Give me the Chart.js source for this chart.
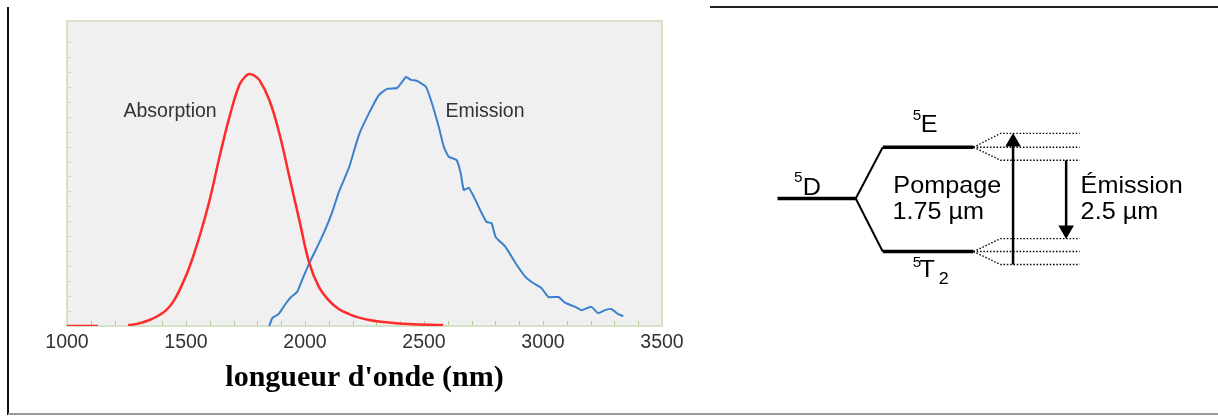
<!DOCTYPE html>
<html>
<head>
<meta charset="utf-8">
<script src="https://cdn.jsdelivr.net/npm/chart.js@4"></script>
<style>
  body { margin: 0; background: #fff; overflow: hidden; }
  #wrap { position: relative; width: 1218px; height: 417px; }
  canvas { position: absolute; top: 0; }
  #spectrum { left: 0; }
  #levels { left: 700px; }
  .rule { position: absolute; }
</style>
</head>
<body>
<div id="wrap">
  <canvas id="spectrum" width="700" height="417"></canvas>
  <canvas id="levels" width="518" height="417"></canvas>
  <div class="rule" style="left:7px; top:7px; width:2px; height:408px; background:#111;"></div>
  <div class="rule" style="left:710px; top:6px; width:508px; height:2px; background:#222;"></div>
  <div class="rule" style="left:8px; top:413px; width:1210px; height:2px; background:#9a9a9a;"></div>
</div>
<script>
// ── Spectrum data (wavelength in nm, normalised intensity) ──
const xTickValues = [1000, 1500, 2000, 2500, 3000, 3500];
const xTickLabels = ['1000', '1500', '2000', '2500', '3000', '3500'];

const absorptionNm = [1000, 1060, 1130, 1190, 1257, 1300, 1347, 1385, 1417, 1445, 1473, 1515,
  1557, 1599, 1641, 1683, 1724, 1750, 1766, 1785, 1808, 1850, 1892, 1934, 1976, 2018, 2059,
  2101, 2143, 2185, 2227, 2269, 2320, 2382, 2450, 2520, 2580];
const absorptionVal = [0, 0, 0, null, 0.003, 0.008, 0.02, 0.035, 0.053, 0.08, 0.12, 0.198,
  0.30, 0.42, 0.566, 0.70, 0.806, 0.835, 0.843, 0.838, 0.823, 0.756, 0.645, 0.50, 0.355, 0.21, 0.13,
  0.085, 0.056, 0.040, 0.028, 0.02, 0.014, 0.009, 0.006, 0.004, 0.003];

const emissionNm = [1850, 1863, 1880, 1892, 1921, 1942, 1967, 1988, 2018, 2059, 2089, 2114,
  2143, 2185, 2227, 2269, 2311, 2345, 2387, 2408, 2424, 2445, 2470, 2508, 2533, 2562, 2583,
  2604, 2637, 2654, 2667, 2688, 2717, 2742, 2763, 2784, 2801, 2843, 2885, 2926, 2952, 2993,
  3023, 3065, 3094, 3136, 3161, 3203, 3232, 3261, 3286, 3316, 3337];
const emissionVal = [0, 0.027, 0.035, 0.043, 0.077, 0.097, 0.114, 0.154, 0.21, 0.277, 0.33, 0.38,
  0.45, 0.53, 0.64, 0.712, 0.773, 0.793, 0.796, 0.816, 0.833, 0.823, 0.82, 0.80, 0.746, 0.666, 0.60,
  0.566, 0.555, 0.512, 0.455, 0.462, 0.42, 0.378, 0.348, 0.344, 0.298, 0.264, 0.21, 0.164, 0.147, 0.127,
  0.097, 0.097, 0.077, 0.064, 0.053, 0.064, 0.043, 0.053, 0.057, 0.040, 0.033];

const curveNames = ['Absorption', 'Emission'];
const curveLabelNm = [1433, 2756];
const curveLabelVal = [0.716, 0.716];

// ── Energy level diagram data (diagram units) ──
const levelNames = ['5D', '5E', '5T2'];
const levelLines = [
  [[71, 198], [152, 198]],   // 5D
  [[180, 144.5], [274, 144.5]],  // 5E
  [[180, 253.5], [274, 253.5]]   // 5T2
];
const splitLines = [
  [[152, 198], [180, 144.5]],
  [[152, 198], [180, 253.5]]
];
const subLevels = [
  [[274, 144.5], [302, 130], [384, 130]],
  [[274, 144.5], [384, 144.5]],
  [[274, 144.5], [302, 158], [384, 158]],
  [[274, 253.5], [302, 240], [384, 240]],
  [[274, 253.5], [384, 253.5]],
  [[274, 253.5], [302, 267], [384, 267]]
];
const pumpArrow = [[315, 267], [315, 139]];
const emissionArrow = [[370, 158], [370, 231]];
const transitionText = [['Pompage', '1.75 µm'], ['Émission', '2.5 µm']];

const toXY = (xs, ys) => xs.map((x, i) => ({ x: x, y: ys[i] }));
const toPts = seg => seg.map(p => ({ x: p[0], y: p[1] }));

// background, border and inward ticks of the spectrum plot
const frame = {
  id: 'frame',
  beforeDatasetsDraw(chart) {
    const { ctx, chartArea: a, scales } = chart;
    ctx.save();
    ctx.fillStyle = '#f0f0f0';
    ctx.fillRect(a.left, a.top, a.right - a.left, a.bottom - a.top);
    ctx.strokeStyle = '#d6e2c8';
    ctx.lineWidth = 2;
    ctx.strokeRect(a.left, a.top, a.right - a.left, a.bottom - a.top);
    ctx.lineWidth = 1;
    for (let v = 1100; v < 3500; v += 100) {
      const px = Math.round(scales.x.getPixelForValue(v)) + 0.5;
      ctx.strokeStyle = v % 500 === 0 ? '#b8c8a0' : '#a8c890';
      ctx.beginPath();
      ctx.moveTo(px, a.bottom - 1);
      ctx.lineTo(px, a.bottom - 5);
      ctx.stroke();
    }
    for (let v = 0.05; v < 1.0; v += 0.05) {
      const py = Math.round(scales.y.getPixelForValue(v)) + 0.5;
      ctx.strokeStyle = '#e2cfa8';
      ctx.beginPath();
      ctx.moveTo(a.left + 1, py);
      ctx.lineTo(a.left + 4, py);
      ctx.stroke();
    }
    ctx.restore();
  },
  afterDatasetsDraw(chart) {
    const { ctx, scales } = chart;
    ctx.save();
    ctx.font = '19.5px "Liberation Sans", Arial, sans-serif';
    ctx.fillStyle = '#333';
    ctx.textAlign = 'center';
    ctx.textBaseline = 'middle';
    curveNames.forEach((name, i) => {
      ctx.fillText(name, scales.x.getPixelForValue(curveLabelNm[i]), scales.y.getPixelForValue(curveLabelVal[i]));
    });
    ctx.restore();
  }
};

new Chart(document.getElementById('spectrum'), {
  type: 'line',
  data: {
    datasets: [{
      label: curveNames[0],
      data: toXY(absorptionNm, absorptionVal),
      borderColor: '#ff2b2b',
      borderWidth: 2.5,
      tension: 0.4,
      pointRadius: 0
    }, {
      label: curveNames[1],
      data: toXY(emissionNm, emissionVal),
      borderColor: '#3b80cc',
      borderWidth: 2,
      tension: 0.15,
      pointRadius: 0
    }]
  },
  options: {
    responsive: false,
    animation: false,
    devicePixelRatio: 1,
    layout: { padding: { left: 67, right: 38, top: 21, bottom: 0 } },
    plugins: { legend: { display: false }, tooltip: { enabled: false } },
    scales: {
      x: {
        type: 'linear',
        min: 1000,
        max: 3500,
        afterBuildTicks: s => { s.ticks = xTickValues.map(v => ({ value: v })); },
        afterFit: s => { s.height = 91; },
        grid: { display: false, drawTicks: false },
        border: { display: false },
        ticks: {
          padding: 5,
          maxRotation: 0,
          color: '#333',
          font: { family: '"Liberation Sans", Arial, sans-serif', size: 19.5 },
          callback: (v, i) => xTickLabels[i]
        },
        title: {
          display: true,
          text: "longueur d'onde (nm)",
          color: '#000',
          padding: { top: 0, bottom: 21 },
          font: { family: '"Liberation Serif", "Times New Roman", serif', size: 30, weight: 'bold' }
        }
      },
      y: { display: false, min: 0, max: 1.02 }
    }
  },
  plugins: [frame]
});

// text labels of the diagram, slightly stretched like the original
const diagramText = {
  id: 'diagramText',
  afterDatasetsDraw(chart) {
    const { ctx, scales } = chart;
    const put = (txt, x, y, size) => {
      ctx.save();
      ctx.translate(scales.x.getPixelForValue(x), scales.y.getPixelForValue(y));
      ctx.scale(1.05, 1);
      ctx.font = size + 'px "Liberation Sans", Arial, sans-serif';
      ctx.fillStyle = '#000';
      ctx.textBaseline = 'alphabetic';
      ctx.fillText(txt, 0, 0);
      ctx.restore();
    };
    // 5D
    put(levelNames[0][0], 88, 181, 14.5);
    put(levelNames[0][1], 97, 194, 24);
    // 5E
    put(levelNames[1][0], 211, 115.5, 14.5);
    put(levelNames[1][1], 219.5, 129, 24);
    // 5T2
    put(levelNames[2][0], 211, 270, 14.5);
    put(levelNames[2][1], 218, 280, 24);
    put(levelNames[2][2], 238, 287, 17);
    // transitions
    put(transitionText[0][0], 191, 192, 24);
    put(transitionText[0][1], 190, 219.5, 24);
    put(transitionText[1][0], 385, 192, 24);
    put(transitionText[1][1], 385, 219.5, 24);
  }
};

const seg = (pts, width, dash) => ({
  data: toPts(pts),
  showLine: true,
  borderColor: '#000',
  borderWidth: width,
  borderDash: dash || [],
  pointRadius: 0,
  tension: 0
});

const arrow = (pts, rot) => ({
  data: toPts(pts),
  showLine: true,
  borderColor: '#000',
  backgroundColor: '#000',
  borderWidth: 2.5,
  pointStyle: 'triangle',
  pointRadius: [0, 9],
  pointBorderWidth: 0,
  rotation: rot
});

new Chart(document.getElementById('levels'), {
  type: 'scatter',
  data: {
    datasets: [
      ...levelLines.map(l => seg(l, 3.5)),
      ...splitLines.map(l => seg(l, 2)),
      ...subLevels.map(l => seg(l, 1.4, [1.5, 1.8])),
      arrow(pumpArrow, 0),
      arrow(emissionArrow, 180)
    ]
  },
  options: {
    responsive: false,
    animation: false,
    devicePixelRatio: 1,
    layout: { padding: 0 },
    plugins: { legend: { display: false }, tooltip: { enabled: false } },
    scales: {
      x: { type: 'linear', display: false, min: 0, max: 518 },
      y: { type: 'linear', display: false, min: 0, max: 417, reverse: true }
    }
  },
  plugins: [diagramText]
});
</script>
</body>
</html>
